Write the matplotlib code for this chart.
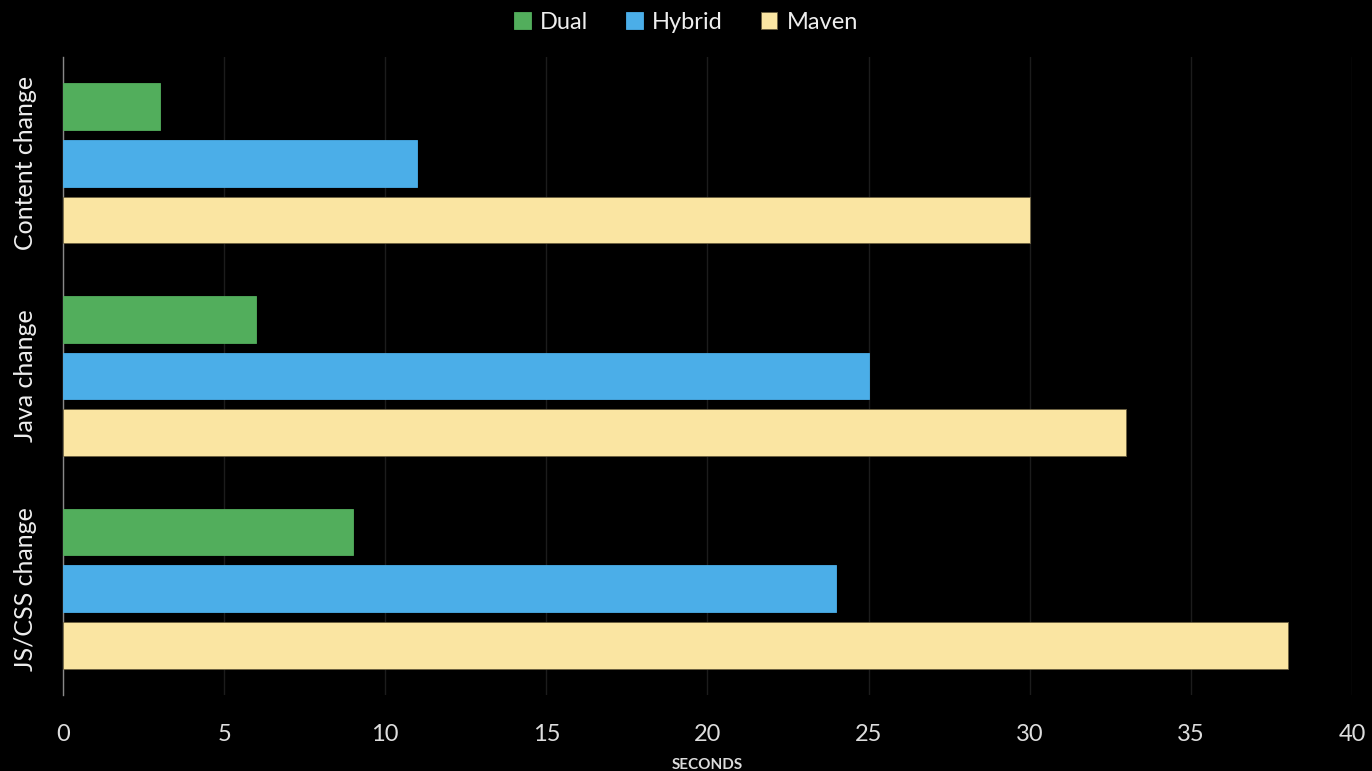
import matplotlib
matplotlib.use("Agg")
import matplotlib.pyplot as plt
import numpy as np

categories = ["Content change", "Java change", "JS/CSS change"]
series = ["Dual", "Hybrid", "Maven"]
dual = [3, 6, 9]
hybrid = [11, 25, 24]
maven = [30, 33, 38]
colors = ["#52AE5C", "#4BAEE8", "#FAE5A2"]
xticks = [0, 5, 10, 15, 20, 25, 30, 35, 40]

plt.rcParams['font.family'] = ['Lato', 'DejaVu Sans']

fig = plt.figure(figsize=(13.72, 7.71), dpi=100, facecolor="black")
ax = fig.add_axes([0.0459, 0.0986, 0.9395, 0.8274], facecolor="black")

y = np.arange(len(categories))
h = 0.22
step = 0.266
for i, (vals, name, c) in enumerate(zip([dual, hybrid, maven], series, colors)):
    ax.barh(y + (i - 1) * step, vals, height=h, color=c, label=name,
            edgecolor="#6b6040" if name == "Maven" else c, linewidth=0.6, zorder=3)

ax.set_ylim(2.5, -0.5)
ax.set_xlim(0, 40)
ax.set_xticks(xticks)
ax.set_xticklabels([str(t) for t in xticks], fontsize=17, color="#dddddd")
ax.set_yticks(y)
ax.set_yticklabels(categories, rotation=90, va="center", ha="center", fontsize=18, color="#eeeeee")
ax.tick_params(axis="y", length=0, pad=27)
ax.tick_params(axis="x", length=0, pad=21)
ax.grid(axis="x", color="#1c1c1c", linewidth=1, zorder=0)
for s in ["top", "right", "bottom"]:
    ax.spines[s].set_visible(False)
ax.spines["left"].set_color("#888888")
ax.spines["left"].set_linewidth(1)
ax.set_xlabel("SECONDS", fontsize=11, fontweight="bold", color="#dddddd", labelpad=9)

leg = fig.legend(loc="upper center", bbox_to_anchor=(0.5, 1.012), ncol=3, frameon=False,
                 fontsize=17, handlelength=0.7, handleheight=0.7, handletextpad=0.4,
                 columnspacing=1.6, labelcolor="#eeeeee")

fig.savefig("out.png", dpi=100, facecolor="black")
